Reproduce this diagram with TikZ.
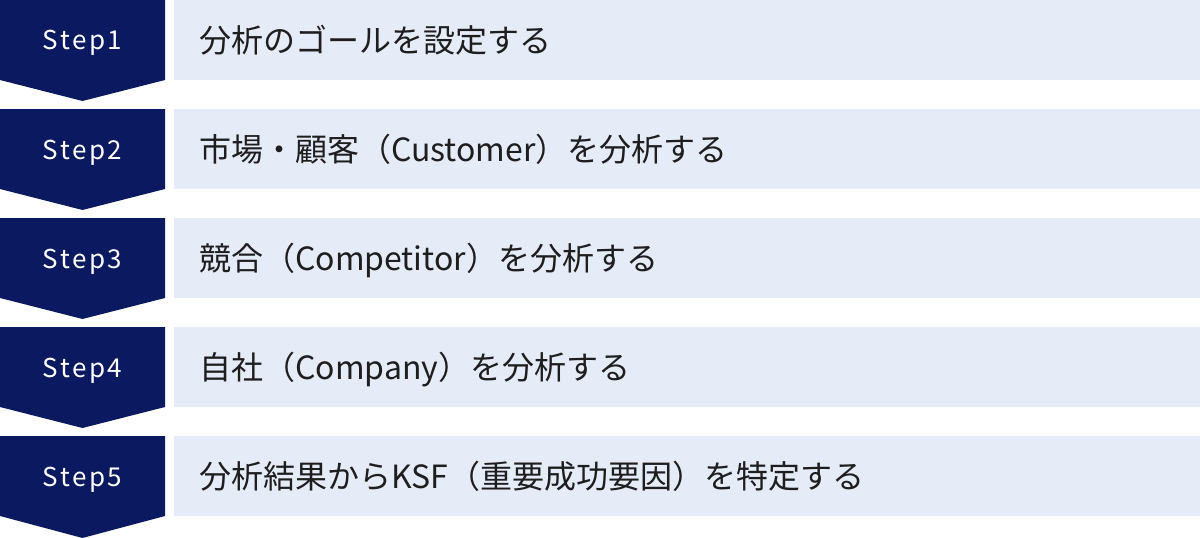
\documentclass[tikz,border=0pt]{standalone}
\usepackage{fontspec}
\newfontfamily\jpfont{Noto Sans CJK JP}
\newfontfamily\stepfont[LetterSpace=10]{Noto Sans CJK JP}
\definecolor{navy}{HTML}{0A1960}
\definecolor{paleblue}{HTML}{E6EBF8}
\definecolor{ink}{HTML}{1E1E1E}
\begin{document}
\begin{tikzpicture}[x=1pt, y=-1pt, step arrow/.style={fill=navy},
  step label/.style={text=white,text height=19pt,text depth=0pt,inner sep=0pt,font=\stepfont\fontsize{26}{30}\selectfont},
  goal box/.style={fill=paleblue,anchor=north west,minimum height=80pt,text width=976pt,inner xsep=25pt,inner ysep=0pt,text height=28pt,text depth=4pt,align=left,text=ink,font=\jpfont\fontsize{32}{38}\selectfont}]
\useasboundingbox (0,0) rectangle (1200,538);
%chevrons
\begin{scope}[every path/.style={step arrow}]
\fill (0,0) -- (165,0) -- (165,80) -- (82.5,101) -- (0,80) -- cycle;
\fill (0,109) -- (165,109) -- (165,189) -- (82.5,210) -- (0,189) -- cycle;
\fill (0,218) -- (165,218) -- (165,298) -- (82.5,319) -- (0,298) -- cycle;
\fill (0,327) -- (165,327) -- (165,407) -- (82.5,428) -- (0,407) -- cycle;
\fill (0,436) -- (165,436) -- (165,516) -- (82.5,538) -- (0,516) -- cycle;
\end{scope}
\begin{scope}[every node/.style={step label}]
\node (s1) at (82.5,40) {Step1};
\node (s2) at (82.5,149.5) {Step2};
\node (s3) at (82.5,258.5) {Step3};
\node (s4) at (82.5,367.5) {Step4};
\node (s5) at (82.5,476.5) {Step5};
\end{scope}
%goal boxes
\node[goal box] (b1) at (174,0) {分析のゴールを設定する};
\node[goal box] (b2) at (174,109) {市場・顧客（Customer）を分析する};
\node[goal box] (b3) at (174,218) {競合（Competitor）を分析する};
\node[goal box] (b4) at (174,327) {自社（Company）を分析する};
\node[goal box] (b5) at (174,436) {分析結果からKSF（重要成功要因）を特定する};
\end{tikzpicture}
\end{document}
